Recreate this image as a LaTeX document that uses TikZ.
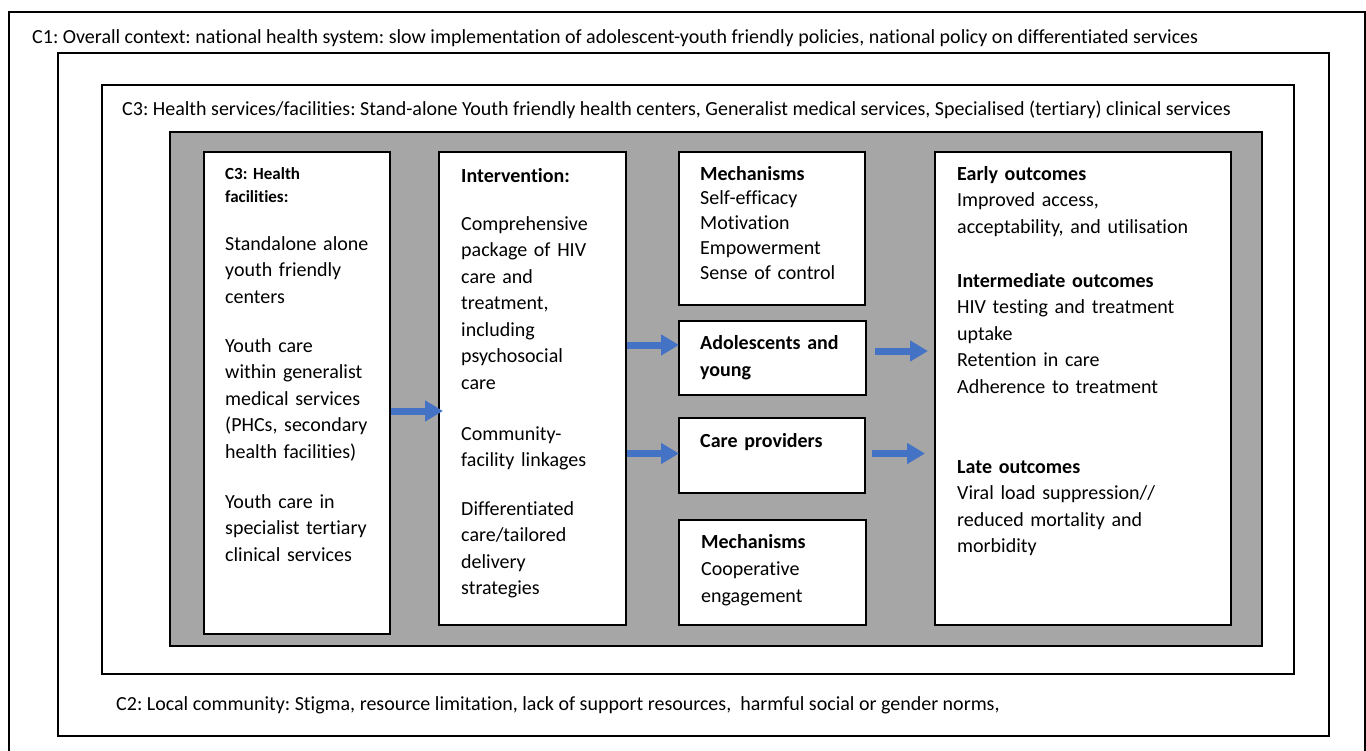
\documentclass[tikz,border=0pt]{standalone}
\usepackage{fontspec}
\setmainfont{Carlito}[Ligatures=NoCommon]
\usepackage{tikz}
\usetikzlibrary{                          % TikZ libraries
                calc,                     % .
                arrows.meta}
\usepackage{xcolor}
\definecolor{panelgray}{HTML}{A6A6A6}
\definecolor{flowblue}{HTML}{4472C4}
\newcommand{\topstrut}{\rule{0pt}{16pt}}
\frenchspacing

\begin{document}
\begin{tikzpicture}[x=1pt,y=-1pt
                    ]
                % define styles
\tikzset{frame/.style={draw=black,
                       line width=2pt,
                       },
         panel/.style={draw=black,
                       fill=panelgray,
                       line width=2pt,
                       },
         box/.style={draw=black,
                     fill=white,
                     line width=2pt,
                     inner sep=0,
                     anchor=north west,
                     },
         ctx/.style={anchor=base west,
                     inner sep=0,
                     font=\fontsize{20}{24}\selectfont,
                     },
         txt/.style={anchor=north west,
                     inner sep=0,
                     align=left,
                     text width=#1,
                     font=\fontsize{20}{26.5}\selectfont,
                     execute at begin node=\topstrut,
                     },
         flow/.style={draw=flowblue,
                      line width=7pt,
                      -{Triangle[length=18pt,width=20pt]},
                      }
}

\useasboundingbox (0,0) rectangle (1366,750);
\clip (0,0) rectangle (1366,750);

% context frames
\draw[frame] (9,12) rectangle (1365,780);
\draw[frame] (58,53) rectangle (1329,736);
\draw[frame] (102,85) rectangle (1294,674);
\draw[panel] (170,132) rectangle (1262,646);

% context labels
\node[ctx] (ctxOne)   at (32,43)   {C1: Overall context: national health system: slow implementation of adolescent-youth friendly policies, national policy on differentiated services};
\node[ctx] (ctxThree) at (122,115) {C3: Health services/facilities: Stand-alone Youth friendly health centers, Generalist medical services, Specialised (tertiary) clinical services};
\node[ctx] (ctxTwo)   at (116,710) {C2: Local community: Stigma, resource limitation, lack of support resources,\ \ harmful social or gender norms,};

% boxes
\foreach \name/\x/\y/\w/\h in {fac/203/151/186/482, intv/438/151/187/473,
                               mechA/678/151/186/153, adol/678/320/187/74,
                               care/678/417/186/75, mechB/678/519/187/105,
                               outc/934/151/296/473}
    \node[box, minimum width=\w pt, minimum height=\h pt] (\name) at (\x,\y) {};

% facilities
\node[txt=160pt, font=\fontsize{17}{23}\selectfont\bfseries] (facHead) at (225,163) {C3: Health\\facilities:};
\node[txt=160pt] (facA) at (225,234) {Standalone alone\\youth friendly\\centers};
\node[txt=160pt] (facB) at (225,336) {Youth care\\within generalist\\medical services\\(PHCs, secondary\\health facilities)};
\node[txt=160pt] (facC) at (225,492) {Youth care in\\specialist tertiary\\clinical services};

% intervention
\node[txt=160pt, font=\fontsize{20}{26.5}\selectfont\bfseries] (intvHead) at (461,166) {Intervention:};
\node[txt=160pt] (intvA) at (461,214) {Comprehensive\\package of HIV\\care and\\treatment,\\including\\psychosocial\\care};
\node[txt=160pt] (intvB) at (461,424) {Community-\\facility linkages};
\node[txt=160pt] (intvC) at (461,499) {Differentiated\\care/tailored\\delivery\\strategies};

% mechanisms and actors
\node[txt=160pt, font=\fontsize{20}{24.75}\selectfont] (mechAtxt) at (700,164) {\textbf{Mechanisms}\\Self-efficacy\\Motivation\\Empowerment\\Sense of control};
\node[txt=160pt, font=\fontsize{20}{27}\selectfont\bfseries] (adolTxt) at (700,333) {Adolescents and\\young};
\node[txt=160pt, font=\fontsize{20}{27}\selectfont\bfseries] (careTxt) at (700,431) {Care providers};
\node[txt=160pt, font=\fontsize{20}{27}\selectfont] (mechBtxt) at (701,532) {\textbf{Mechanisms}\\Cooperative\\engagement};

% outcomes
\node[txt=265pt] (outEarly) at (957,164) {\textbf{Early outcomes}\\Improved access,\\acceptability, and utilisation};
\node[txt=265pt] (outMid)   at (957,271) {\textbf{Intermediate outcomes}\\HIV testing and treatment\\uptake\\Retention in care\\Adherence to treatment};
\node[txt=265pt] (outLate)  at (957,457) {\textbf{Late outcomes}\\Viral load suppression//\\reduced mortality and\\morbidity};

% arrows
\draw[flow] ($(fac.east)+(0,18)$) -- ($(fac.east -| intv.west)+(5,18)$);
\draw[flow] ($(intv.east |- adol.west)+(0,-13)$) -- ($(adol.west)+(1,-13)$);
\draw[flow] ($(intv.east |- care.west)+(0,-2)$) -- ($(care.west)+(1,-2)$);
\draw[flow] ($(adol.east)+(8,-7)$) -- ($(adol.east -| outc.west)+(-6,-7)$);
\draw[flow] ($(care.east)+(6,-2)$) -- ($(care.east -| outc.west)+(-9,-2)$);
\end{tikzpicture}
\end{document}
